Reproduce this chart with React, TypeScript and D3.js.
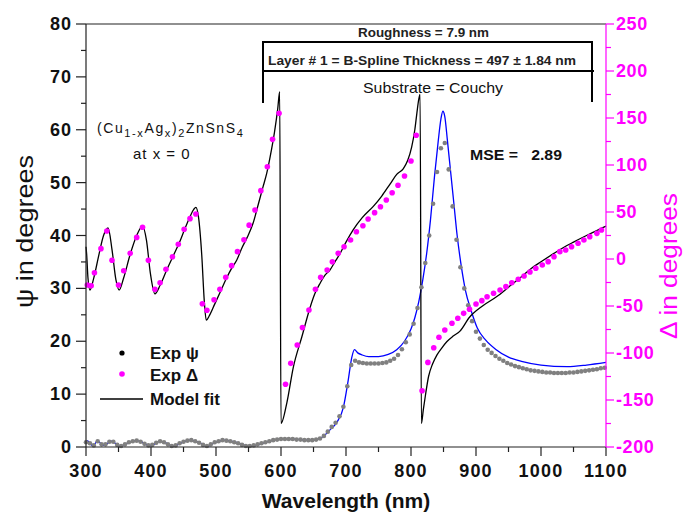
import React from "react";
import * as d3 from "d3";

// Ellipsometry of (Cu1-xAgx)2ZnSnS4, x = 0: measured ψ and Δ with the model fit.

// Measured ψ (degrees) vs wavelength (nm)
const psiExp: [number, number][] = [
  [300, 0.9], [306, 0.7], [312, 0.3], [318, 1.1], [324, 0.5], [330, 0.5], [336, 1.0], [342, 1.0],
  [348, 0.4], [354, 0.2], [360, 0.5], [366, 0.9], [372, 1.1], [378, 1.2], [384, 1.0], [390, 0.6],
  [396, 0.3], [402, 0.4], [408, 0.8], [414, 1.1], [420, 0.9], [426, 0.5], [432, 0.2], [438, 0.3],
  [444, 0.7], [450, 1.0], [456, 1.2], [462, 1.3], [468, 1.1], [474, 0.8], [480, 0.4], [486, 0.2],
  [492, 0.5], [498, 0.9], [504, 1.1], [510, 1.3], [516, 1.2], [522, 1.1], [528, 0.9], [534, 0.7],
  [540, 0.4], [546, 0.2], [552, 0.2], [558, 0.3], [564, 0.5], [570, 0.7], [576, 0.9], [582, 1.1],
  [588, 1.3], [594, 1.4], [600, 1.5], [606, 1.5], [612, 1.5], [618, 1.5], [624, 1.4], [630, 1.4],
  [636, 1.3], [642, 1.3], [648, 1.3], [654, 1.4], [660, 1.6], [666, 2.1], [672, 2.9], [678, 3.8],
  [684, 4.6], [690, 5.8], [696, 7.6], [702, 11.5], [708, 15.5], [714, 16.3], [720, 16.0], [726, 15.9],
  [732, 15.8], [738, 15.8], [744, 15.8], [750, 15.8], [756, 15.9], [762, 16.0], [768, 16.3], [774, 16.7],
  [780, 17.4], [786, 18.5], [792, 19.8], [798, 21.3], [804, 23.3], [810, 26.3], [816, 30.2], [822, 34.8],
  [828, 40.0], [834, 46.0], [840, 52.0], [846, 56.5], [852, 57.5], [858, 52.5], [864, 45.5], [870, 39.2],
  [876, 34.0], [882, 30.0], [888, 26.8], [894, 23.8], [900, 21.8], [906, 20.5], [912, 19.3], [918, 18.4],
  [924, 17.8], [930, 17.2], [936, 16.7], [942, 16.3], [948, 15.9], [954, 15.6], [960, 15.3], [966, 15.1],
  [972, 14.9], [978, 14.7], [984, 14.5], [990, 14.4], [996, 14.3], [1002, 14.2], [1008, 14.1], [1014, 14.1],
  [1020, 14.0], [1026, 14.0], [1032, 14.0], [1038, 14.0], [1044, 14.1], [1050, 14.1], [1056, 14.2], [1062, 14.3],
  [1068, 14.4], [1074, 14.5], [1080, 14.6], [1086, 14.7], [1092, 14.9], [1098, 15.0],
];

// Model ψ (degrees)
const psiModel: [number, number][] = [
  [300, 0.6], [302, 1.2], [306, 0.7], [311, 0.2], [318, 1.2], [326, 0.3], [333, 0.7], [340, 1.1],
  [346, 0.6], [352, 0.1], [360, 0.5], [368, 0.9], [378, 1.2], [388, 0.8], [398, 0.2], [406, 0.6],
  [414, 1.1], [424, 0.7], [434, 0.1], [447, 0.8], [460, 1.3], [474, 0.9], [486, 0.1], [498, 0.8],
  [511, 1.3], [530, 0.9], [542, 0.4], [552, 0.1], [562, 0.3], [574, 0.8], [588, 1.3], [600, 1.5],
  [620, 1.5], [640, 1.3], [655, 1.4], [665, 2.0], [675, 3.2], [686, 4.7], [696, 7.5], [703, 12.3],
  [709, 17.0], [713, 18.4], [718, 17.8], [725, 17.4], [735, 17.1], [750, 17.1], [765, 17.5], [778, 18.4],
  [790, 20.0], [800, 22.3], [806, 24.5], [812, 27.5], [818, 31.5], [824, 36.5], [830, 43.0], [836, 51.0],
  [842, 58.0], [846, 62.0], [849, 63.5], [852, 62.5], [856, 58.0], [861, 52.0], [866, 46.0], [871, 40.0],
  [877, 34.5], [884, 29.5], [892, 26.0], [902, 22.5], [915, 20.2], [930, 18.5], [950, 17.0], [970, 16.2],
  [1000, 15.5], [1040, 15.2], [1070, 15.5], [1100, 16.0],
];

// Measured Δ (degrees)
const deltaExp: [number, number][] = [
  [302, -27.7], [308, -28.4], [313, -14.6], [323, 11.0], [332, 29.8], [340, -1.4], [350, -27.7], [358, -12.5],
  [368, 6.0], [378, 23.0], [387, 33.7], [396, -1.4], [406, -32.2], [414, -25.2], [423, -11.0], [433, 2.4],
  [442, 15.6], [451, 31.6], [460, 42.9], [469, 47.9], [479, -47.6], [486, -54.6], [497, -43.3], [506, -32.2],
  [515, -19.5], [524, -7.1], [533, 7.8], [543, 20.5], [551, 36.0], [560, 52.1], [569, 72.7], [579, 98.2],
  [587, 127.3], [597, 155.0],
  [607, -133.3], [615, -111.0], [625, -91.5], [633, -73.0], [643, -54.3], [653, -32.2], [661, -19.5], [671, -11.7],
  [679, -2.9], [688, 6.0], [697, 13.0], [707, 20.2], [716, 29.0], [726, 35.4], [734, 42.5], [744, 49.3],
  [753, 55.6], [762, 62.8], [771, 70.5], [780, 78.4], [790, 88.3], [800, 104.3], [808, 131.6],
  [817, -140.2], [826, -110.0], [835, -94.4], [843, -83.3], [852, -75.5], [863, -68.4], [872, -63.1], [881, -57.8],
  [890, -53.5], [900, -47.9], [909, -44.3], [917, -40.1], [927, -36.5], [937, -33.0], [946, -29.4], [955, -25.2],
  [965, -21.6], [974, -18.1], [983, -13.8], [992, -9.9], [1002, -6.4], [1011, -2.8], [1020, 2.5], [1029, 7.8],
  [1038, 9.6], [1047, 13.1], [1057, 16.7], [1066, 20.2], [1075, 23.8], [1086, 27.3], [1093, 30.9],
];

// Model Δ (degrees)
const deltaModel: [number, number][] = [
  [300, 13], [301, 5], [303, -20], [306, -33], [312, -20], [320, 5], [327, 25], [334, 33],
  [340, 10], [346, -22], [351, -33], [358, -20], [368, 5], [378, 25], [387, 35], [393, 20],
  [399, -15], [406, -37], [414, -28], [424, -12], [434, 3], [444, 18], [452, 32], [460, 45],
  [466, 53], [469, 55], [473, 45], [478, 5], [482, -45], [485, -65], [490, -60], [498, -48],
  [506, -36], [515, -22], [524, -10], [532, -1], [540, 12], [548, 23], [557, 38], [565, 58],
  [572, 76], [578, 91], [585, 115], [590, 135], [595, 160], [598, 178], [600, -175], [609, -153],
  [619, -115], [632, -83], [645, -51], [652, -37], [660, -26], [668, -17], [675, -12], [683, -3],
  [691, 6], [700, 18], [711, 31], [725, 44], [742, 56], [755, 67], [768, 80], [778, 90],
  [788, 96], [795, 105], [801, 119], [806, 138], [809, 155], [812, 170], [814, 175], [816, -175],
  [819, -160], [822, -146], [827, -125], [833, -112], [840, -102], [847, -95], [855, -88], [865, -82],
  [875, -77], [890, -62], [910, -50], [932, -40], [950, -30], [968, -20], [985, -10], [1000, -3],
  [1020, 6], [1034, 12], [1050, 18], [1070, 25], [1085, 30], [1100, 35],
];

const xTicks = [300, 400, 500, 600, 700, 800, 900, 1000, 1100];
const psiTicks = [0, 10, 20, 30, 40, 50, 60, 70, 80];
const deltaTicks = [-200, -150, -100, -50, 0, 50, 100, 150, 200, 250];

const FONT = "Arial, 'Liberation Sans', sans-serif";
const MAGENTA = "#ff00ff";

export default function App() {
  const left = 86, right = 606, top = 24, bottom = 447;
  const x = d3.scaleLinear().domain([300, 1100]).range([left, right]);
  const yPsi = d3.scaleLinear().domain([0, 80]).range([bottom, top]);
  const yDelta = d3.scaleLinear().domain([-200, 250]).range([bottom, top]);

  const psiLine = d3.line<[number, number]>().x(d => x(d[0])).y(d => yPsi(d[1])).curve(d3.curveMonotoneX);
  const deltaLine = d3.line<[number, number]>().x(d => x(d[0])).y(d => yDelta(d[1])).curve(d3.curveMonotoneX);

  const xMinor = d3.range(350, 1100, 100);
  const psiMinor = d3.range(5, 80, 10);
  const deltaMinor = d3.range(-175, 250, 50);

  return (
    <div style={{ position: "absolute", left: 0, top: 0 }}>
      <svg width={683} height={518} style={{ display: "block", background: "#fff" }} fontFamily={FONT}>
        {/* model fits */}
        <path d={psiLine(psiModel) ?? ""} fill="none" stroke="#0000ff" strokeWidth={1.3} />
        <path d={deltaLine(deltaModel) ?? ""} fill="none" stroke="#000" strokeWidth={1.3} />

        {/* measured data */}
        {psiExp.map((d, i) => (
          <circle key={"p" + i} cx={x(d[0])} cy={yPsi(d[1])} r={2.3} fill="#808080" />
        ))}
        {deltaExp.map((d, i) => (
          <circle key={"d" + i} cx={x(d[0])} cy={yDelta(d[1])} r={2.8} fill={MAGENTA} />
        ))}

        {/* frame */}
        <line x1={left} y1={top} x2={right} y2={top} stroke="#222" strokeWidth={1.2} />
        <line x1={left} y1={top} x2={left} y2={bottom} stroke="#222" strokeWidth={1.2} />
        <line x1={left} y1={bottom} x2={right} y2={bottom} stroke="#222" strokeWidth={1.2} />
        <line x1={right} y1={top} x2={right} y2={bottom} stroke={MAGENTA} strokeWidth={1.2} />

        {/* bottom axis */}
        {xTicks.map(t => (
          <g key={"xt" + t}>
            <line x1={x(t)} x2={x(t)} y1={bottom} y2={bottom + 9} stroke="#222" strokeWidth={1.2} />
            <text x={x(t)} y={477} textAnchor="middle" fontSize={18} fontWeight="bold" letterSpacing={1.2} fill="#111">{t}</text>
          </g>
        ))}
        {xMinor.map(t => (
          <line key={"xm" + t} x1={x(t)} x2={x(t)} y1={bottom} y2={bottom + 5} stroke="#222" strokeWidth={1.2} />
        ))}

        {/* left axis */}
        {psiTicks.map(t => (
          <g key={"yt" + t}>
            <line x1={left - 10} x2={left} y1={yPsi(t)} y2={yPsi(t)} stroke="#222" strokeWidth={1.2} />
            <text x={72} y={yPsi(t) + 6} textAnchor="end" fontSize={18} fontWeight="bold" letterSpacing={1} fill="#111">{t}</text>
          </g>
        ))}
        {psiMinor.map(t => (
          <line key={"ym" + t} x1={left - 5} x2={left} y1={yPsi(t)} y2={yPsi(t)} stroke="#222" strokeWidth={1.2} />
        ))}

        {/* right axis */}
        {deltaTicks.map(t => (
          <g key={"rt" + t}>
            <line x1={right} x2={right + 8} y1={yDelta(t)} y2={yDelta(t)} stroke={MAGENTA} strokeWidth={1.2} />
            <text x={616} y={yDelta(t) + 6} textAnchor="start" fontSize={18} fontWeight="bold" letterSpacing={0.6} fill={MAGENTA}>{t}</text>
          </g>
        ))}
        {deltaMinor.map(t => (
          <line key={"rm" + t} x1={right} x2={right + 5} y1={yDelta(t)} y2={yDelta(t)} stroke={MAGENTA} strokeWidth={1.2} />
        ))}

        {/* axis titles */}
        <text x={346} y={508} textAnchor="middle" fontSize={21} fontWeight="bold" fill="#111">Wavelength (nm)</text>
        <text transform="translate(33,231.5) rotate(-90)" textAnchor="middle" fontSize={24} fill="#111"
          textLength={153} lengthAdjust="spacingAndGlyphs">ψ in degrees</text>
        <text transform="translate(677,266) rotate(-90)" textAnchor="middle" fontSize={23} fill={MAGENTA}
          textLength={146} lengthAdjust="spacingAndGlyphs">Δ in degrees</text>

        {/* sample */}
        <text x={97} y={133} fontSize={14} letterSpacing={1.6} fill="#111">
          (Cu<tspan fontSize={11} dy={4}>1-x</tspan><tspan dy={-4}>Ag</tspan><tspan fontSize={11} dy={4}>x</tspan>
          <tspan dy={-4}>)</tspan><tspan fontSize={11} dy={4}>2</tspan><tspan dy={-4}>ZnSnS</tspan>
          <tspan fontSize={11} dy={4}>4</tspan>
        </text>
        <text x={133} y={159} fontSize={15} letterSpacing={1} fill="#111">at x = 0</text>

        {/* layer stack */}
        <path d="M263,103 V42 H592 V102" fill="none" stroke="#000" strokeWidth={2} />
        <line x1={263} y1={71} x2={594} y2={71} stroke="#000" strokeWidth={2} />
        <text x={358} y={37} fontSize={12} fontWeight="bold" fill="#222" textLength={131} lengthAdjust="spacingAndGlyphs">Roughness = 7.9 nm</text>
        <text x={268} y={65} fontSize={12} fontWeight="bold" fill="#222" textLength={308} lengthAdjust="spacingAndGlyphs">Layer # 1 = B-Spline Thickness = 497 ± 1.84 nm</text>
        <text x={363} y={93} fontSize={15} fill="#111" textLength={140} lengthAdjust="spacingAndGlyphs">Substrate = Couchy</text>
        <text x={470} y={160} fontSize={15} fontWeight="bold" fill="#111" textLength={92} lengthAdjust="spacingAndGlyphs">{"MSE =\u00a0\u00a0 2.89"}</text>

        {/* legend */}
        <circle cx={122} cy={353} r={2.6} fill="#000" />
        <text x={150} y={359} fontSize={17} fontWeight="bold" fill="#111">Exp ψ</text>
        <circle cx={122} cy={374} r={2.8} fill={MAGENTA} />
        <text x={150} y={381} fontSize={17} fontWeight="bold" fill="#111">Exp Δ</text>
        <line x1={100} x2={143} y1={399} y2={399} stroke="#000" strokeWidth={1.3} />
        <text x={150} y={405} fontSize={17} fontWeight="bold" fill="#111">Model fit</text>
      </svg>
    </div>
  );
}
